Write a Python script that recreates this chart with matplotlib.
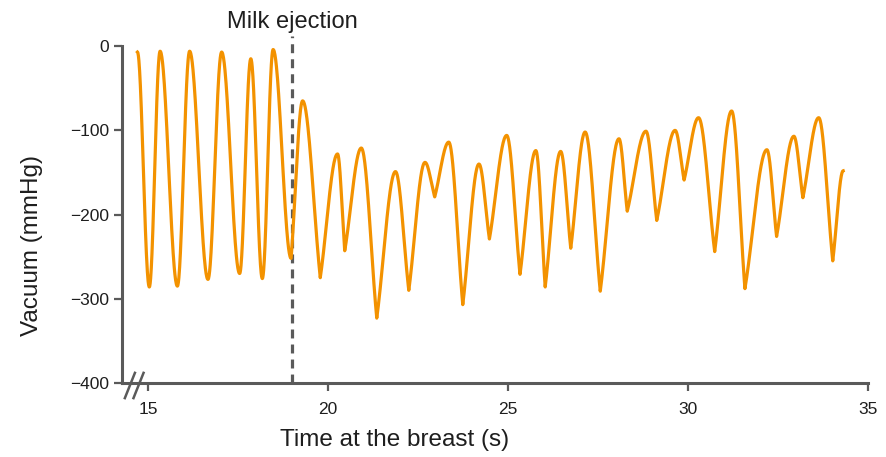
import numpy as np
import matplotlib
matplotlib.use('Agg')
import matplotlib.pyplot as plt

plt.rcParams['font.family'] = ['Liberation Sans', 'DejaVu Sans']

# 吸奶负压的极值点（峰/谷交替）
t_ext = [14.70, 15.03, 15.33, 15.81, 16.15, 16.66, 17.04, 17.54, 17.85, 18.17,
         18.47, 18.97, 19.29, 19.78, 20.26, 20.46, 20.92, 21.35, 21.87, 22.24,
         22.69, 22.96, 23.35, 23.74, 24.19, 24.48, 24.96, 25.33, 25.77, 26.03,
         26.46, 26.74, 27.14, 27.56, 28.08, 28.31, 28.83, 29.13, 29.64, 29.89,
         30.29, 30.74, 31.21, 31.58, 32.19, 32.46, 32.94, 33.19, 33.63, 34.02,
         34.31]
v_ext = [-7, -286, -6, -285, -6, -277, -7, -270, -15, -276,
         -4, -252, -65, -275, -128, -243, -121, -323, -149, -290,
         -138, -179, -114, -307, -140, -229, -106, -271, -124, -286,
         -125, -240, -102, -291, -110, -196, -101, -207, -100, -159,
         -85, -244, -77, -288, -123, -226, -107, -180, -85, -255,
         -148]
milk_ejection = 19.0

xticks = [15, 20, 25, 30, 35]
yticks = [0, -100, -200, -300, -400]

# 曲线形状：射乳前近似正弦，射乳后峰圆谷尖
xs, ys = [], []
for i in range(len(t_ext) - 1):
    x0, x1 = t_ext[i], t_ext[i + 1]
    y0, y1 = v_ext[i], v_ext[i + 1]
    s = np.linspace(0, 1, 50)
    a = 1.0 if x1 < milk_ejection else 0.4
    smooth = (1 - np.cos(np.pi * s)) / 2
    if y0 > y1:   # 峰 -> 谷
        sharp = 1 - np.cos(np.pi / 2 * s)
    else:         # 谷 -> 峰
        sharp = np.sin(np.pi / 2 * s)
    f = a * smooth + (1 - a) * sharp
    xs.extend(x0 + (x1 - x0) * s)
    ys.extend(y0 + (y1 - y0) * f)

fig = plt.figure(figsize=(8.87, 4.57), dpi=100)
ax = fig.add_axes([0.1375, 0.162, 0.8411, 0.737])

gray = '#5a5a5a'
txt = '#1e1e1e'
ax.plot(xs, ys, color='#f39200', lw=2.3, clip_on=False, zorder=3,
        solid_joinstyle='round')
ax.plot([milk_ejection, milk_ejection], [-400, 12], color=gray, lw=2.3,
        ls=(0, (2.8, 1.9)), clip_on=False, zorder=2)
ax.text(milk_ejection, 16, 'Milk ejection', ha='center', va='bottom',
        fontsize=17, color=txt)

ax.set_xlim(14.27, 35)
ax.set_ylim(-400, 0)
ax.set_xticks(xticks)
ax.set_yticks(yticks)
ax.set_yticklabels(['0', '\u2212100', '\u2212200', '\u2212300', '\u2212400'])

for side in ['top', 'right']:
    ax.spines[side].set_visible(False)
for side in ['left', 'bottom']:
    ax.spines[side].set_color(gray)
    ax.spines[side].set_linewidth(2.2)
ax.tick_params(colors=gray, width=1.6, length=6, labelsize=12.5,
               labelcolor=txt)
ax.tick_params(axis='x', pad=8)

# 轴标题位置与原图一致（并非居中）
fig.text(395 / 887, 1 - 440 / 457, 'Time at the breast (s)', ha='center',
         va='center', fontsize=17.5, color=txt)
fig.text(32 / 887, 1 - 245 / 457, 'Vacuum (mmHg)', ha='center', va='center',
         rotation=90, fontsize=17.5, color=txt)

# 坐标轴断开标记 //
for dx in [0.0, 0.24]:
    ax.plot([14.35 + dx, 14.63 + dx], [-418, -388], color=gray, lw=1.8,
            clip_on=False, zorder=4)

plt.savefig('out.png', dpi=100)
